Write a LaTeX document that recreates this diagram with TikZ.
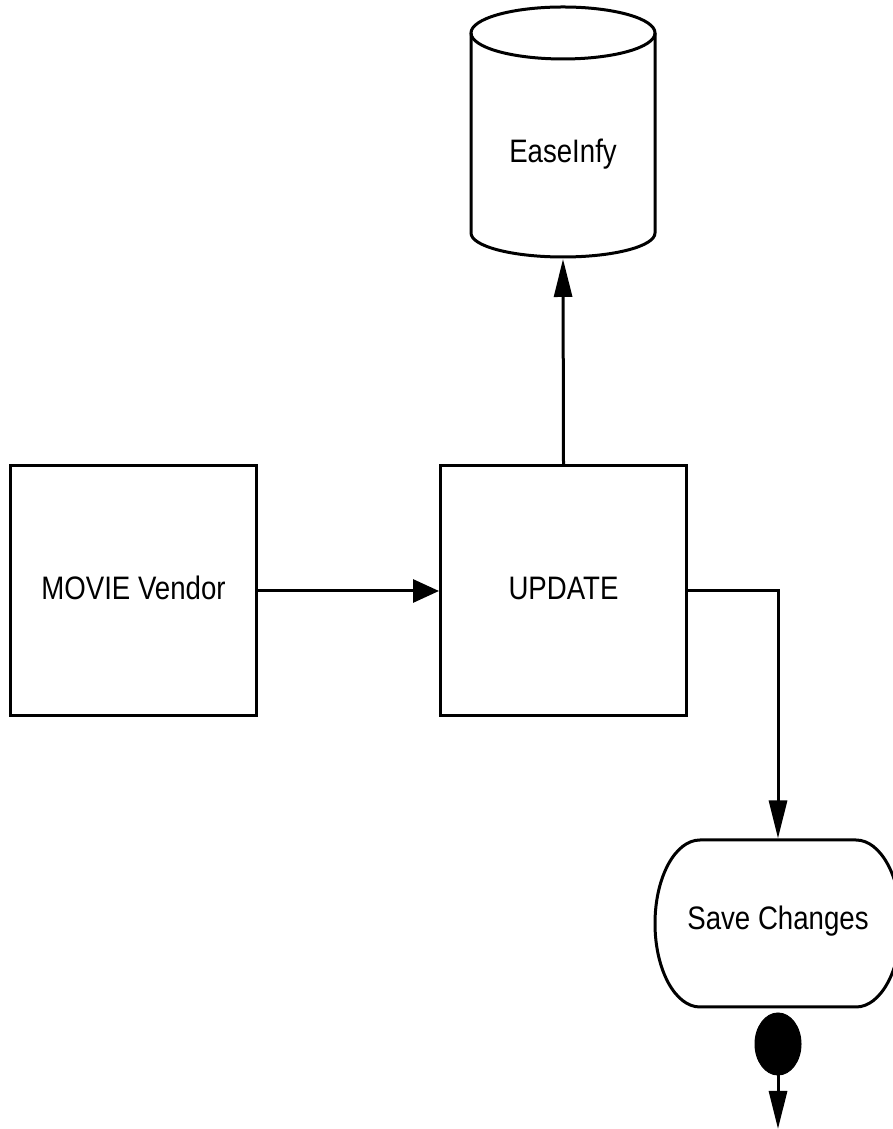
\documentclass[tikz,border=0pt]{standalone}
\usepackage{fontspec}
\setmainfont[FakeStretch=0.85]{Liberation Sans}
\usetikzlibrary{arrows.meta,shapes.geometric}
\begin{document}
\begin{tikzpicture}[x=1pt,y=1pt,line width=3pt,
  box/.style={draw,minimum width=246pt,minimum height=250pt,inner sep=0pt},
  lbl/.style={inner sep=0pt,font=\fontsize{32.5}{38}\selectfont},
  harr/.style={-{Triangle[length=26pt,width=23pt]}},
  varr/.style={-{Triangle[length=38pt,width=18pt]}}]
\useasboundingbox (0,0) rectangle (893,1129);
\fill[white] (0,0) rectangle (893,1129);
% cylinder
\draw (471,1096) -- (471,896) arc[start angle=180,end angle=360,x radius=92,y radius=24] -- (655,1096);
\draw (563,1096) ellipse[x radius=92,y radius=26];
\node[lbl] (db) at (563,975) {EaseInfy};
\coordinate (dbbottom) at (563,870);
% boxes
\node[box] (vendor) at (133.5,538) {};
\node[box] (update) at (563.5,538) {};
\node[lbl] (vendortext) at (133.5,541) {MOVIE Vendor};
\node[lbl] (updatetext) at (563.5,541) {UPDATE};
% save changes
\draw (700,289) -- (856,289) arc[start angle=90,end angle=-90,x radius=45,y radius=83.5] -- (700,122) arc[start angle=270,end angle=90,x radius=45,y radius=83.5] -- cycle;
\node[lbl,minimum width=246pt,minimum height=167pt] (save) at (778,205.5) {};
\node[lbl] (savetext) at (778,208) {Save Changes};
% end dot
\node[draw,fill=black,ellipse,inner sep=0pt,minimum width=46pt,minimum height=62pt,line width=1pt] (dot) at (778,85) {};
\coordinate (endpt) at (778,0);
% connectors
\draw[harr] (vendor.east) -- (update.west);
\draw[varr] (update.north) -- (dbbottom);
\draw[varr] (update.east) -| (save.north);
\draw[varr] (dot.south) -- (endpt);
\end{tikzpicture}
\end{document}
